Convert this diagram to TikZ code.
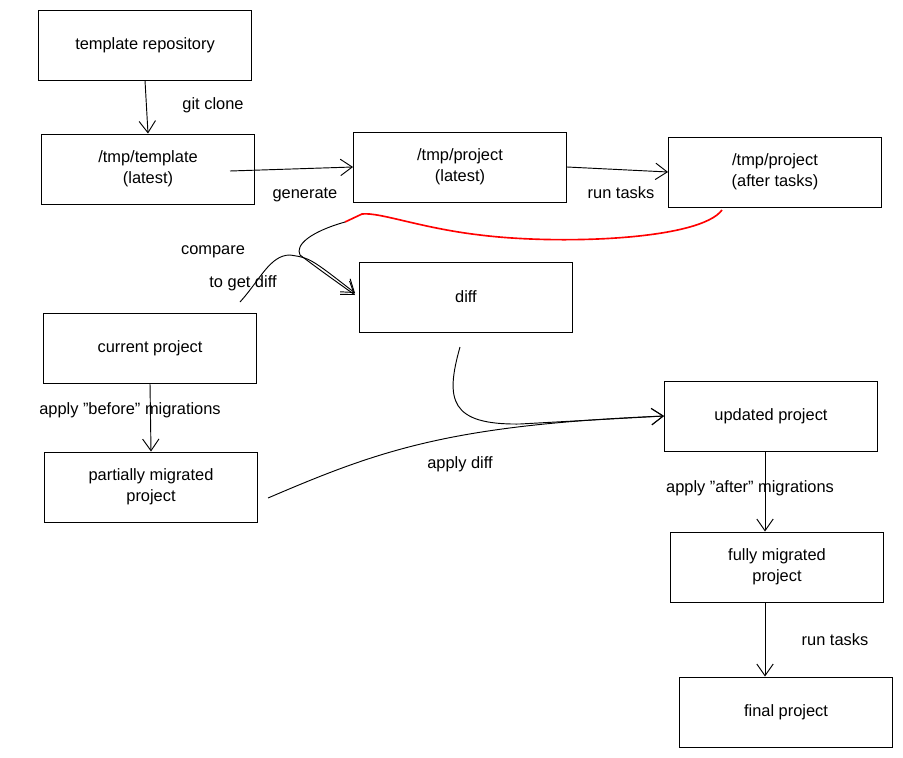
\documentclass[tikz,border=0pt]{standalone}
\usepackage{fontspec}
\setmainfont{Liberation Sans}[Ligatures=ResetAll]
\usetikzlibrary{arrows.meta}
\begin{document}
\begin{tikzpicture}[x=0.03cm,y=-0.03cm,
 box/.style={draw,thick,minimum width=213*0.03cm,minimum height=70*0.03cm,align=center,font=\fontsize{14}{18}\selectfont,inner sep=0},
 lbl/.style={font=\fontsize{14}{16}\selectfont,inner sep=1pt},
 arr/.style={thick,-{Straight Barb[length=10pt,width=14pt]}},
 ]
\useasboundingbox (0,0) rectangle (903,757);
\node[box] (tr) at (145,45) {template repository};
\node[box] (tt) at (148,169) {/tmp/template\\(latest)};
\node[box] (pl) at (460,167) {/tmp/project\\(latest)};
\node[box] (pa) at (775,172) {/tmp/project\\(after tasks)};
\node[box] (df) at (466,297) {diff};
\node[box] (cp) at (150,348) {current project};
\node[box] (pm) at (151,487) {partially migrated\\project};
\node[box] (up) at (771,416) {updated project};
\node[box] (fm) at (777,567) {fully migrated\\project};
\node[box] (fp) at (786,712) {final project};

\draw[arr] (tr.south) -- (tt.north);
\node[lbl] (l1) at (213,105) {git clone};
\draw[arr] (230,171) -- (pl.west);
\node[lbl] (l2) at (305,195) {generate};
\draw[arr] (pl.east) -- (pa.west);
\node[lbl] (l3) at (621,193) {run tasks};

\coordinate (r0) at (722,210);
\coordinate (r1) at (345,222);
\draw[red,line width=1.4pt] (r0) .. controls (700,240) and (560,245) .. (480,235) .. controls (420,228) and (380,212) .. (362,214) -- (r1);
\draw[arr] (r1) .. controls (310,232) and (295,245) .. (300,255) .. controls (320,270) .. (355,295);
\coordinate (c0) at (240,302);
\draw[arr] (c0) .. controls (260,280) and (270,255) .. (290,255) .. controls (310,258) .. (355,293);
\node[lbl] (l4) at (213,252) {compare};
\node[lbl] (l5) at (243,283) {to get diff};

\draw[arr] (cp.south) -- (pm.north);
\node[lbl] (l6) at (130,410) {apply "before" migrations};

\coordinate (d0) at (460,347);
\draw[arr] (d0) .. controls (445,400) and (450,425) .. (520,424) -- (up.west);
\coordinate (p0) at (268,498);
\draw[arr] (p0) .. controls (380,450) and (450,425) .. (up.west);
\node[lbl] (l7) at (460,464) {apply diff};

\draw[arr] (up.south -| 765,0) -- (fm.north -| 765,0);
\node[lbl] (l8) at (750,488) {apply "after" migrations};
\draw[arr] (fm.south -| 765,0) -- (fp.north -| 765,0);
\node[lbl] (l9) at (835,640) {run tasks};
\end{tikzpicture}
\end{document}
